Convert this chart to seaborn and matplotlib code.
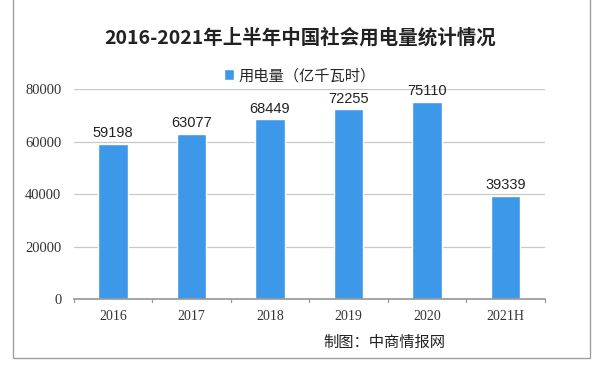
import matplotlib
matplotlib.use("Agg")
import matplotlib.pyplot as plt
import seaborn as sns
import pandas as pd
from matplotlib.patches import Rectangle

# Data
years = ["2016", "2017", "2018", "2019", "2020", "2021H"]
usage = [59198, 63077, 68449, 72255, 75110, 39339]
y_ticks = [0, 20000, 40000, 60000, 80000]

sns.set_theme(style="white")
plt.rcParams["font.family"] = ["Noto Sans CJK SC", "DejaVu Sans"]

df = pd.DataFrame({"year": years, "usage": usage})

fig = plt.figure(figsize=(6, 3.7), dpi=100)
ax = fig.add_axes([0.123, 0.192, 0.785, 0.567])

bar_color = "#3d98e9"
sns.barplot(data=df, x="year", y="usage", color=bar_color, width=0.38,
            saturation=1, label="用电量（亿千瓦时）", ax=ax)

# value labels on top of bars
for i, v in enumerate(usage):
    ax.text(i, v + 1500, str(v), ha="center", va="bottom", fontsize=10.5,
            color="#222222", family=["Liberation Sans", "DejaVu Sans"])

ax.set_ylim(0, 80000)
ax.set_xlim(-0.5, len(years) - 0.5)
ax.set_yticks(y_ticks)
ax.set_yticklabels([str(t) for t in y_ticks], fontsize=10.5,
                   family=["Liberation Serif", "DejaVu Serif"])
ax.set_xticks(range(len(years)))
ax.set_xticklabels(years, fontsize=10, family=["Liberation Serif", "DejaVu Serif"])
ax.set_xlabel("")
ax.set_ylabel("")
ax.yaxis.grid(True, color="#c8c8c8", linewidth=0.9)
ax.set_axisbelow(True)
for side in ["top", "right", "left"]:
    ax.spines[side].set_visible(False)
ax.spines["bottom"].set_color("#9a9a9a")
ax.tick_params(axis="y", length=0, pad=9, colors="#333333")
ax.tick_params(axis="x", length=0, pad=8, colors="#333333")

# minor tick marks at category boundaries along the baseline
for b in [x - 0.5 for x in range(len(years) + 1)]:
    ax.plot([b, b], [0, -1200], color="#9a9a9a", lw=0.9, clip_on=False)

fig.suptitle("2016-2021年上半年中国社会用电量统计情况", x=0.5, y=0.925,
             fontsize=14, fontweight="bold", color="#222222")

ax.legend(loc="upper center", bbox_to_anchor=(0.5, 1.0), bbox_transform=fig.transFigure,
          frameon=False, fontsize=11, handlelength=0.7, handleheight=0.7,
          handletextpad=0.3, borderaxespad=0)
leg = ax.get_legend()
leg.set_bbox_to_anchor((0.5, 0.835), transform=fig.transFigure)

fig.text(0.64, 0.075, "制图：中商情报网", ha="center", va="center", fontsize=11,
         color="#222222")

# outer frame
fig.patches.append(Rectangle((0.022, 0.032), 0.962, 1.0, transform=fig.transFigure,
                             fill=False, edgecolor="#a0a0a0", linewidth=1.0))

fig.savefig("out.png", dpi=100)
